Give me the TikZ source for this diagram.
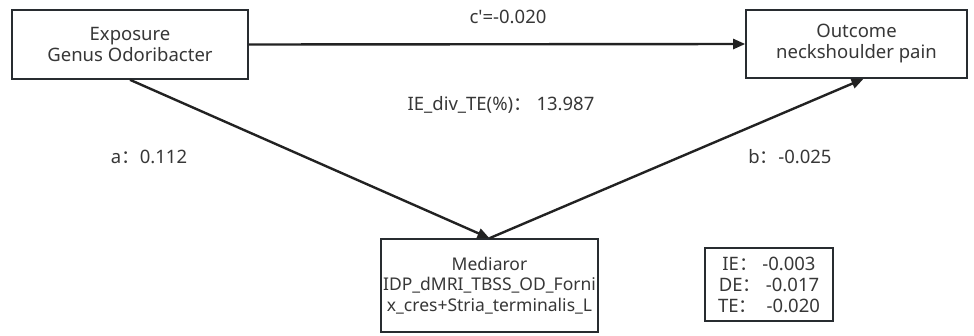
\documentclass[tikz,border=0pt]{standalone}
\usepackage{fontspec}
\setmainfont{Noto Sans}
\newfontfamily\cjkfont{Noto Sans CJK SC}
\newfontfamily\plainfont{Noto Sans}
\usepackage{tikz}
\usetikzlibrary{arrows.meta, positioning}
\definecolor{boxline}{RGB}{40, 44, 48}
\definecolor{txtgray}{RGB}{55, 55, 55}
\definecolor{arrowdark}{RGB}{34, 34, 34}
\newcommand{\fcolon}{{\cjkfont ：}}

\begin{document}
\begin{tikzpicture}[
    x=1pt, y=-1pt,
    font=\fontsize{18.5}{21}\selectfont,
    >={Triangle[length=12pt, width=10pt]},
    varbox/.style={draw=boxline, line width=1.6pt, fill=white, text=txtgray, align=center, inner sep=2pt},
    statbox/.style={draw=boxline, line width=1.6pt, fill=white, text=txtgray, align=center, inner sep=2pt},
    conn/.style={->, draw=arrowdark, line width=2.4pt},
    coef/.style={text=txtgray, inner sep=2pt},
]

\useasboundingbox (0,0) rectangle (974,335);

% --- Variable boxes ---
\node[varbox, minimum width=236pt, minimum height=69pt] (expo) at (130, 44.5) {Exposure\\Genus Odoribacter};
\node[varbox, minimum width=221pt, minimum height=68pt] (outc) at (856.5, 44) {Outcome\\neckshoulder pain};
\node[varbox, minimum width=217pt, minimum height=93pt, inner xsep=0pt, font=\fontsize{17.5}{20.5}\selectfont] (medi) at (489.5, 285.5) {Mediaror\\IDP\_dMRI\_TBSS\_OD\_Forni\\x\_cres+Stria\_terminalis\_L};

% --- Effect summary ---
\node[statbox, minimum width=128pt, minimum height=73pt] (stats) at (769, 284.5) {IE\fcolon\ -0.003\\DE\fcolon\ -0.017\\TE\fcolon\ \ -0.020};

% --- Paths ---
\draw[conn] (expo.east) -- (outc.west);
\draw[conn] (expo.south) -- (medi.north);
\draw[conn] (medi.north) -- ([xshift=7pt]outc.south);

% --- Coefficients ---
\node[coef] (cdir) at (508, 17) {c{\plainfont '}=-0.020};
\node[coef] (ratio) at (501, 105) {IE\_div\_TE(\%)\fcolon\ 13.987};
\node[coef] (acoef) at (149, 157) {a\fcolon 0.112};
\node[coef] (bcoef) at (790, 157) {b\fcolon -0.025};

\end{tikzpicture}
\end{document}
